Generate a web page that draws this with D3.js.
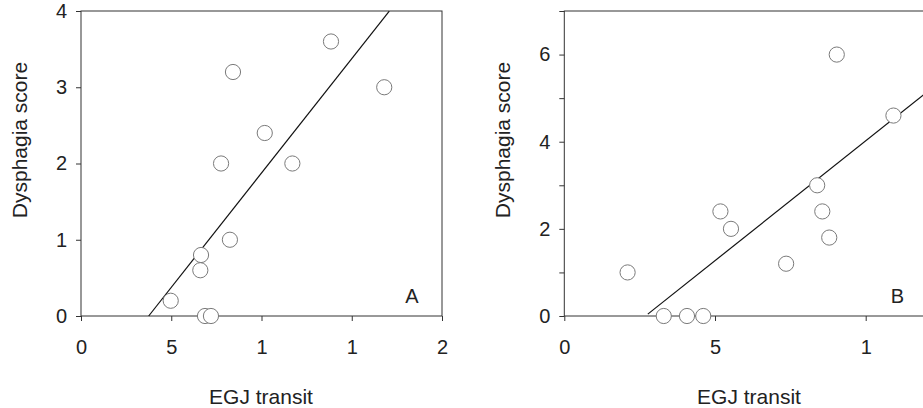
<!DOCTYPE html>
<html>
<head>
<meta charset="utf-8">
<script src="https://cdn.jsdelivr.net/npm/d3@7"></script>
<style>
    html, body { margin: 0; padding: 0; background: #fff; }
    svg { display: block; font-family: "Liberation Sans", Arial, Helvetica, sans-serif; }
    .axis path, .axis line { stroke: #333; }
    .axis text { fill: #222; font-size: 20px; }
    .title { fill: #222; font-size: 21px; }
    .tag { fill: #222; font-size: 20px; }
    .pt { fill: #fff; stroke: #7a7a7a; stroke-width: 1; }
    .fit { stroke: #111; stroke-width: 1.2; fill: none; }
</style>
</head>
<body>
<div id="content"></div>
<script>
// Panel A: EGJ transit vs dysphagia score
var aX = [1.385, 0.842, 1.68, 1.018, 0.776, 1.171, 0.825, 0.665, 0.661, 0.497, 0.687, 0.72];
var aY = [3.6, 3.2, 3.0, 2.4, 2.0, 2.0, 1.0, 0.8, 0.6, 0.2, 0, 0];
var aFit = [3.0, -1.125];          // slope, intercept
var aFitX = [0.375, 1.708];
var aXTicks = [0, 0.5, 1, 1.5, 2];
var aXLabels = ["0", "5", "1", "1", "2"];
var aYTicks = [0, 1, 2, 3, 4];
var aYLabels = ["0", "1", "2", "3", "4"];

// Panel B (cut off at the right edge)
var bX = [0.904, 1.092, 0.839, 0.856, 0.879, 0.736, 0.518, 0.553, 0.21, 0.33, 0.407, 0.461];
var bY = [6.0, 4.6, 3.0, 2.4, 1.8, 1.2, 2.4, 2.0, 1.0, 0, 0, 0];
var bFit = [5.5, -1.48];
var bFitX = [0.277, 1.5];
var bXTicks = [0, 0.5, 1];
var bXLabels = ["0", "5", "1"];
var bYTicks = [0, 1, 2, 3, 4, 5, 6, 7];
var bYLabels = ["0", "", "2", "", "4", "", "6", ""];

var chart = (function () {

    "use strict";

    var width = 923,
        height = 408,
        svg;

    function drawPanel(cfg) {
        var x = d3.scaleLinear().domain(cfg.xDomain).range(cfg.xRange),
            y = d3.scaleLinear().domain(cfg.yDomain).range([316, 11]),
            g = svg.append("g"),
            pts = cfg.xs.map(function (v, i) { return {x: v, y: cfg.ys[i]}; });

        // frame
        g.append("rect")
            .attr("x", x.range()[0])
            .attr("y", 11)
            .attr("width", x.range()[1] - x.range()[0])
            .attr("height", 305)
            .attr("fill", "none")
            .attr("stroke", "#333");

        g.append("g")
            .attr("class", "axis")
            .attr("transform", "translate(0,316)")
            .call(d3.axisBottom(x)
                .tickValues(cfg.xTicks)
                .tickSizeInner(5).tickSizeOuter(0)
                .tickPadding(19)
                .tickFormat(function (d, i) { return cfg.xLabels[i]; }));

        g.append("g")
            .attr("class", "axis")
            .attr("transform", "translate(" + x.range()[0] + ",0)")
            .call(d3.axisLeft(y)
                .tickValues(cfg.yTicks)
                .tickSizeInner(5).tickSizeOuter(0)
                .tickPadding(9)
                .tickFormat(function (d, i) { return cfg.yLabels[i]; }));

        g.selectAll(".axis .domain").remove();

        g.append("line")
            .attr("class", "fit")
            .attr("x1", x(cfg.fitX[0]))
            .attr("y1", y(cfg.fit[0] * cfg.fitX[0] + cfg.fit[1]))
            .attr("x2", x(cfg.fitX[1]))
            .attr("y2", y(cfg.fit[0] * cfg.fitX[1] + cfg.fit[1]));

        g.selectAll("circle")
            .data(pts)
            .enter()
            .append("circle")
            .attr("class", "pt")
            .attr("cx", function (d) { return x(d.x); })
            .attr("cy", function (d) { return y(d.y); })
            .attr("r", 7.6);

        g.append("text")
            .attr("class", "tag")
            .attr("x", cfg.tagX)
            .attr("y", 303)
            .attr("text-anchor", "middle")
            .text(cfg.tag);

        g.append("text")
            .attr("class", "title")
            .attr("x", cfg.titleX)
            .attr("y", 404)
            .attr("text-anchor", "middle")
            .text("EGJ transit");

        g.append("text")
            .attr("class", "title")
            .attr("transform", "translate(" + (x.range()[0] - 54) + ",140) rotate(-90)")
            .attr("text-anchor", "middle")
            .text("Dysphagia score");
    }

    function render() {
        svg = d3.select("#content").append("svg")
            .attr("width", width)
            .attr("height", height);

        drawPanel({
            xs: aX, ys: aY, fit: aFit, fitX: aFitX,
            xDomain: [0, 2], xRange: [81, 442], yDomain: [0, 4],
            xTicks: aXTicks, xLabels: aXLabels,
            yTicks: aYTicks, yLabels: aYLabels,
            tag: "A", tagX: 412, titleX: 261
        });

        drawPanel({
            xs: bX, ys: bY, fit: bFit, fitX: bFitX,
            xDomain: [0, 1.5], xRange: [564.3, 1016.4], yDomain: [0, 7],
            xTicks: bXTicks, xLabels: bXLabels,
            yTicks: bYTicks, yLabels: bYLabels,
            tag: "B", tagX: 897.5, titleX: 749
        });
    }

    return {
        render: render
    };

}());

chart.render();
</script>
</body>
</html>
